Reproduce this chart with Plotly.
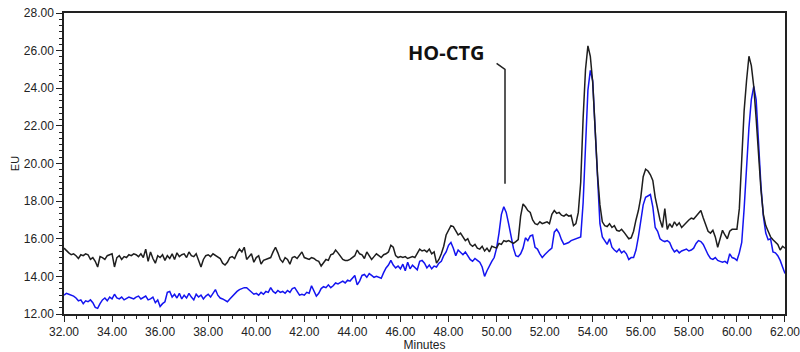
import plotly.graph_objects as go

# Sampling grid of the chromatogram (minutes)
T_START = 32.0
T_STEP = 0.1

# Black trace (EU), one value per 0.1 min from 32.0 to 62.0
black_eu = [
    15.5, 15.35, 15.25, 15.15, 15.2, 15.1, 14.95, 15.15, 15.1, 15.2,
    15.15, 14.9, 15.0, 14.8, 14.5, 15.05, 15.0, 14.9, 15.1, 15.15,
    15.2, 14.5, 15.0, 15.1, 14.9, 15.05, 15.0, 15.15, 15.1, 15.2,
    15.15, 15.05, 15.2, 15.0, 15.45, 14.8, 15.3, 14.95, 14.7, 15.1,
    15.0, 15.15, 14.85, 15.1, 14.95, 15.2, 14.9, 15.25, 15.05, 15.15,
    15.2, 15.0, 15.3, 15.1, 15.05, 15.2, 14.85, 14.5, 14.9, 15.1,
    15.15, 15.05, 15.2, 15.1, 15.0, 14.95, 14.7, 14.6, 14.75, 15.0,
    15.05, 14.95, 15.25, 15.45, 15.3, 15.55, 14.9, 15.05, 15.2, 14.75,
    15.0, 15.1, 14.65, 14.85, 14.9, 14.95, 15.0, 15.3, 15.55, 15.25,
    14.9, 14.75, 15.0, 14.9, 14.65, 15.0, 15.05, 14.95, 15.1, 15.3,
    15.0, 14.95, 14.9, 15.0, 14.95, 14.85, 14.8, 14.55, 14.7, 14.9,
    14.85, 15.15, 15.2, 15.4, 15.25, 15.05, 14.9, 14.85, 14.85, 14.9,
    15.0, 15.1, 15.4, 15.2, 15.15, 14.95, 15.3, 15.1, 14.9, 15.05,
    15.2, 15.1, 15.0, 15.15, 15.2, 15.3, 15.65, 15.55, 15.1, 15.0,
    15.05, 15.0, 15.05, 14.95, 15.0, 15.05, 15.0, 15.25, 15.45, 15.35,
    15.4, 15.3, 15.45, 15.2, 15.3, 14.7, 14.9, 15.2, 15.6, 16.2,
    16.5, 16.7, 16.65, 16.4, 16.2, 16.3, 16.1, 15.9, 16.0, 15.7,
    15.6, 15.7, 15.5, 15.45, 15.6, 15.35, 15.5, 15.3, 15.6, 15.55,
    15.5, 15.75, 15.7, 15.9, 15.85, 15.9, 15.8, 15.75, 15.85, 15.95,
    17.2, 17.85, 17.7, 17.5, 17.4, 17.0, 16.8, 16.75, 16.9, 16.8,
    16.85, 16.9, 16.8, 17.3, 17.5, 17.35, 17.4, 17.25, 17.2, 17.3,
    17.2, 17.25, 16.7, 16.8, 17.4, 19.0, 22.4, 25.0, 26.25, 25.7,
    24.3, 21.8, 19.4, 17.8, 16.9, 16.7, 16.65, 16.8, 16.6, 16.7,
    16.45, 16.4, 16.5, 16.35, 16.2, 16.0, 16.05, 16.4, 17.0, 17.5,
    18.2, 19.3, 19.7, 19.6, 19.4, 19.1, 18.2, 17.5, 17.0, 16.6,
    17.6, 16.5, 16.8, 16.6, 16.9, 16.7, 16.85, 16.6, 16.75, 16.9,
    17.0, 17.1, 17.05, 17.2, 17.35, 17.5, 17.1, 16.7, 16.4, 16.3,
    16.45, 16.1, 15.55, 16.0, 16.45, 16.2, 16.0, 16.4, 16.5, 16.5,
    16.5, 17.6, 20.5, 22.8, 24.4, 25.7, 25.2, 24.1, 22.4, 20.3,
    18.6, 17.3, 16.7, 16.4, 16.1, 15.95, 15.8, 15.7, 15.4, 15.6,
    15.5,
]

# Blue trace (EU), same sampling
blue_eu = [
    13.0, 13.1, 13.05, 13.0, 12.95, 12.85, 12.7, 12.75, 12.55, 12.7,
    12.65, 12.75, 12.6, 12.35, 12.3, 12.55, 12.75, 12.85, 12.7, 12.9,
    12.8, 13.05, 12.85, 12.8, 12.9, 12.75, 12.85, 12.9, 12.85, 12.8,
    12.9, 12.95, 12.8, 12.9, 12.95, 12.75, 12.8, 12.9, 12.6, 12.75,
    12.4, 12.55, 12.65, 13.15, 13.2, 12.9, 13.05, 12.85, 13.1, 12.8,
    13.0, 12.85, 13.1, 12.9, 12.75, 13.05, 12.9, 13.0, 12.8, 12.95,
    13.05, 12.9, 13.1, 13.3, 13.0, 12.85, 12.8, 12.7, 12.65, 12.8,
    12.95, 13.05, 13.2, 13.3, 13.35, 13.4, 13.4, 13.3, 13.15, 13.05,
    13.1, 13.0, 13.15, 13.05, 13.2, 13.15, 13.4, 13.2, 13.1, 13.25,
    13.15, 13.2, 13.1, 13.25, 13.15, 13.35, 13.4, 13.2, 13.0, 13.05,
    13.0, 13.15, 13.1, 13.5, 13.25, 12.95, 13.1, 13.35, 13.45, 13.4,
    13.55, 13.4, 13.5, 13.65, 13.6, 13.7, 13.75, 13.65, 13.8, 13.75,
    13.9, 14.05, 13.55, 13.75, 14.05, 14.1, 13.95, 14.15, 14.05, 13.95,
    14.0, 13.95, 13.9, 14.2, 14.45, 14.6, 14.85, 14.6, 14.45, 14.55,
    14.4, 14.65, 14.3, 14.75, 14.4, 14.6, 14.5, 14.35, 14.8, 14.85,
    14.7, 14.45, 14.6, 14.4, 14.55, 14.5, 14.7, 14.8, 15.1, 15.3,
    15.65, 15.8, 15.5, 15.1, 15.4, 15.25, 15.15, 15.3, 15.1, 14.9,
    14.8, 14.95, 14.85, 14.75, 14.5, 14.0, 14.3, 14.6, 14.8, 15.0,
    15.5, 16.3, 17.3, 17.7, 17.4, 16.8, 16.1, 15.5, 15.1, 15.05,
    15.2, 15.5, 16.05, 15.9, 16.15, 16.2, 15.55, 15.45, 15.2, 15.0,
    15.15, 15.3, 15.4, 15.5, 16.35, 16.5, 16.3, 15.95, 15.7, 15.75,
    15.8, 15.9, 15.95, 16.0, 16.05, 16.1, 17.9, 20.8, 23.9, 24.95,
    24.4, 21.8, 19.1, 16.8, 16.1, 15.9, 15.7, 16.0, 15.55, 15.4,
    15.3, 15.45, 15.25, 15.35, 15.2, 14.9, 15.0, 15.0, 15.4, 16.1,
    17.0, 17.8, 18.2, 18.3, 18.35, 17.7, 16.6, 16.4, 16.0, 15.9,
    15.85, 15.9, 15.8, 15.5, 15.3, 15.4, 15.25, 15.35, 15.4, 15.45,
    15.35, 15.4, 15.5, 15.75, 15.9, 15.85, 15.7, 15.4, 15.15, 14.95,
    14.9, 15.0, 14.85, 14.8, 14.75, 14.8, 14.7, 15.2, 15.0, 14.95,
    14.85, 15.25, 15.8, 17.6, 20.0, 21.9, 23.4, 24.1, 23.4, 21.0,
    18.8, 17.2, 16.3, 15.95, 16.0, 15.3, 15.25, 15.1, 14.85, 14.5,
    14.15,
]

minutes = [round(T_START + i * T_STEP, 2) for i in range(len(black_eu))]

# Axis ticks
x_ticks = [32, 34, 36, 38, 40, 42, 44, 46, 48, 50, 52, 54, 56, 58, 60, 62]
y_ticks = [12, 14, 16, 18, 20, 22, 24, 26, 28]

# Annotation
label_text = "HO-CTG"
label_x, label_y = 47.9, 25.9
leader_path = "M 50.0,25.32 L 50.35,25.0 L 50.35,18.93"

fig = go.Figure()
fig.add_trace(go.Scatter(x=minutes, y=blue_eu, mode="lines",
                         line=dict(color="#1414f0", width=1.5), showlegend=False))
fig.add_trace(go.Scatter(x=minutes, y=black_eu, mode="lines",
                         line=dict(color="#1e1e1e", width=1.5), showlegend=False))

fig.add_shape(type="path", path=leader_path, xref="x", yref="y",
              line=dict(color="#222222", width=1.5))
fig.add_annotation(x=label_x, y=label_y, xref="x", yref="y", text="<b>" + label_text + "</b>",
                   showarrow=False, font=dict(family="Open Sans", size=20, color="#111111"),
                   xanchor="center", yanchor="middle")

axis_common = dict(
    showline=True, linecolor="#222222", linewidth=1.5, mirror=True,
    showgrid=False, zeroline=False, ticks="outside", ticklen=6, tickwidth=1.3,
    tickcolor="#222222", tickmode="array", automargin=False,
    ticklabeloverflow="allow",
    tickfont=dict(family="Liberation Sans, Arial", size=12, color="#222222"),
)

fig.update_xaxes(range=[32, 62.0005],
                 tickvals=x_ticks, ticktext=[f"{v:.2f}" for v in x_ticks],
                 minor=dict(tickmode="linear", tick0=32, dtick=0.5, ticks="outside", ticklen=3, tickcolor="#222222"),
                 title=dict(text="Minutes", font=dict(family="Liberation Sans, Arial", size=12, color="#222222"), standoff=3),
                 **axis_common)
fig.update_yaxes(range=[12, 28.0005],
                 tickvals=y_ticks, ticktext=[f"{v:.2f}" for v in y_ticks],
                 minor=dict(tickmode="linear", tick0=12, dtick=2 / 6, ticks="outside", ticklen=3, tickcolor="#222222"),
                 title=dict(text="EU", font=dict(family="Liberation Sans, Arial", size=11, color="#222222"), standoff=2),
                 **axis_common)

fig.update_layout(width=800, height=352, margin=dict(l=64, r=15, t=13, b=38),
                  paper_bgcolor="white", plot_bgcolor="white")

fig.write_html("out.html")
